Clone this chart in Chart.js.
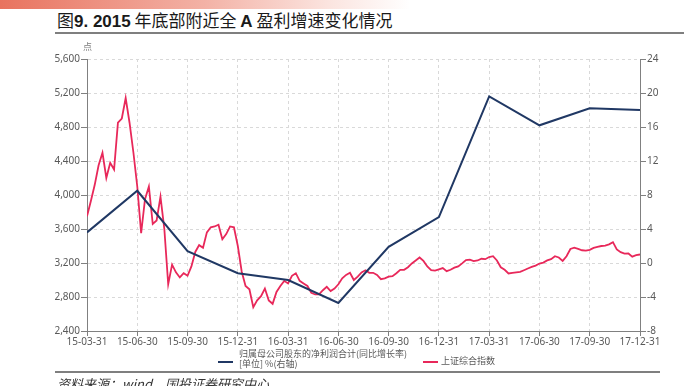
<!DOCTYPE html>
<html>
<head>
<meta charset="utf-8">
<script src="https://cdn.jsdelivr.net/npm/chart.js@4"></script>
<style>
    body { margin: 0; width: 684px; height: 386px; overflow: hidden; background: #fff; position: relative; font-family: "Noto Sans CJK SC", "Noto Sans", sans-serif; }
    .strip { position: absolute; left: 0; top: 0; width: 684px; height: 9px; background: linear-gradient(to right, #e8735f 0%, #f3b2a6 30%, #fbe4df 48%, #fff 60%); }
    .title { position: absolute; left: 57px; top: 9px; font-size: 17px; line-height: 22px; color: #1a1a1a; white-space: nowrap; }
    .title b { font-family: "Liberation Sans", Arial, sans-serif; font-weight: bold; }
    .rule { position: absolute; left: 55px; width: 629px; height: 2px; background: #7f7f7f; }
    .unit { position: absolute; left: 83px; top: 40px; font-size: 9px; color: #7f7f7f; }
    .legend { position: absolute; top: 349px; font-size: 9px; line-height: 10px; color: #595959; white-space: nowrap; }
    .swatch { position: absolute; width: 15px; height: 2px; top: 361px; }
    .source { position: absolute; left: 57px; top: 374px; font-size: 13px; font-style: italic; color: #333; white-space: nowrap; }
    canvas { position: absolute; left: 0; top: 40px; }
</style>
</head>
<body>
<div class="strip"></div>
<div class="title">图<b>9. 2015</b> 年底部附近全 <b>A</b> 盈利增速变化情况</div>
<div class="rule" style="top:32px"></div>
<canvas id="chart" width="684" height="310"></canvas>
<div class="unit">点</div>
<div class="swatch" style="left:218px;background:#203864"></div>
<div class="legend" style="left:239px">归属母公司股东的净利润合计(同比增长率)<br>[单位] %(右轴)</div>
<div class="swatch" style="left:423px;background:#e8285a"></div>
<div class="legend" style="left:441px;top:356px">上证综合指数</div>
<div class="rule" style="top:371px;width:605px"></div>
<div class="source">资料来源：wind，国投证券研究中心</div>
<script>
// quarter ends on the x axis
const quarterLabels = ['15-03-31', '15-06-30', '15-09-30', '15-12-31', '16-03-31', '16-06-30',
    '16-09-30', '16-12-31', '17-03-31', '17-06-30', '17-09-30', '17-12-31'];

// net profit growth yoy, %, right axis (one per quarter)
const profitGrowth = [3.6, 8.5, 1.4, -1.2, -2.0, -4.7, 1.9, 5.4, 19.6, 16.2, 18.2, 18.0];

// shanghai composite, weekly, 13 weeks per quarter
const sseIndex = [
    3750, 3930, 4120, 4350, 4496, 4200, 4379, 4300, 4850, 4900,
    5140, 4850, 4500, 4100, 3550, 3950, 4100, 3660, 3700, 3980,
    3600, 2950, 3180, 3090, 3030, 3080, 3050, 3160, 3330, 3410,
    3380, 3560, 3620, 3630, 3650, 3480, 3540, 3630, 3620, 3400,
    3100, 2930, 2890, 2680, 2760, 2810, 2900, 2760, 2720, 2860,
    2930, 2990, 2960, 3050, 3080, 2990, 2960, 2930, 2850, 2830,
    2830, 2880, 2920, 2870, 2900, 2950, 3020, 3060, 3085, 3000,
    3040, 3090, 3115, 3085, 3085, 3060, 3010, 3020, 3040, 3045,
    3080, 3120, 3120, 3150, 3195, 3230, 3265, 3225, 3160, 3116,
    3110, 3125, 3140, 3104, 3120, 3145, 3160, 3195, 3235, 3240,
    3222, 3230, 3250, 3245, 3270, 3280, 3230, 3150, 3120, 3077,
    3085, 3090, 3095, 3115, 3135, 3155, 3170, 3194, 3205, 3230,
    3245, 3280, 3265, 3225, 3280, 3365, 3380, 3365, 3350, 3345,
    3355, 3378, 3390, 3400, 3405, 3420, 3445, 3360, 3327, 3310,
    3312, 3275, 3292, 3300
];
const weeksPerQuarter = 13;

const tickFont = { family: '"Noto Sans", sans-serif', size: 10 };
const gridColor = '#d9d9d9';
const axisColor = '#808080';

new Chart(document.getElementById('chart'), {
    type: 'line',
    data: {
        datasets: [{
            label: '归属母公司股东的净利润合计(同比增长率)[单位] %(右轴)',
            data: profitGrowth.map((v, i) => ({ x: i, y: v })),
            yAxisID: 'y1',
            borderColor: '#203864',
            borderWidth: 2,
            pointRadius: 0,
            tension: 0
        }, {
            label: '上证综合指数',
            data: sseIndex.map((v, i) => ({ x: i / weeksPerQuarter, y: v })),
            yAxisID: 'y',
            borderColor: '#e8285a',
            borderWidth: 1.8,
            pointRadius: 0,
            tension: 0
        }]
    },
    options: {
        responsive: false,
        animation: false,
        layout: { padding: { top: 19, left: 0, right: 0, bottom: 0 } },
        plugins: { legend: { display: false }, tooltip: { enabled: false } },
        scales: {
            x: {
                type: 'linear',
                min: 0,
                max: quarterLabels.length - 1,
                afterFit: (s) => { s.height = 19; },
                afterBuildTicks: (s) => { s.ticks = quarterLabels.map((_, i) => ({ value: i })); },
                ticks: {
                    autoSkip: false, maxRotation: 0, padding: 0,
                    color: '#595959', font: tickFont,
                    callback: (v) => quarterLabels[v]
                },
                grid: { color: gridColor, tickColor: axisColor, tickLength: 5 },
                border: { color: axisColor, dash: [3, 3] }
            },
            y: {
                position: 'left',
                min: 2400,
                max: 5600,
                afterFit: (s) => { s.width = 87; },
                ticks: {
                    stepSize: 400, padding: 1, color: '#595959', font: tickFont,
                    callback: (v) => v.toLocaleString('en-US')
                },
                grid: { color: gridColor, tickColor: axisColor, tickLength: 6 },
                border: { color: axisColor, dash: [3, 3] }
            },
            y1: {
                position: 'right',
                min: -8,
                max: 24,
                afterFit: (s) => { s.width = 44; },
                ticks: { stepSize: 4, padding: 1, color: '#595959', font: tickFont },
                grid: { drawOnChartArea: false, tickColor: axisColor, tickLength: 6 },
                border: { color: axisColor }
            }
        }
    }
});
</script>
</body>
</html>
